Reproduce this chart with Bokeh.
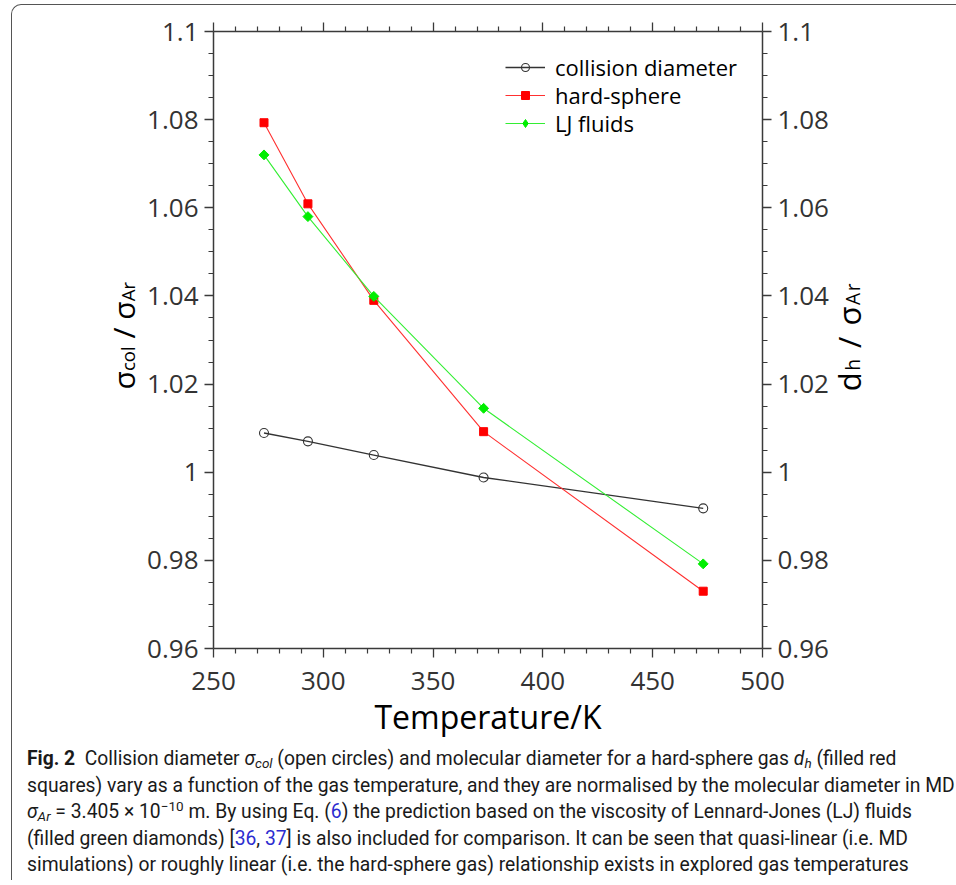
import math
from bokeh.plotting import figure
from bokeh.models import (LinearAxis, FixedTicker, CustomJSTickFormatter, Legend, LegendItem, Div)
from bokeh.layouts import column, row
from bokeh.embed import file_html
from bokeh.resources import INLINE

# ---------------- data ----------------
temperature = [273, 293, 323, 373, 473]
collision_diameter = [1.0089, 1.0070, 1.0039, 0.9988, 0.9918]
hard_sphere = [1.0793, 1.0609, 1.0390, 1.0092, 0.9730]
lj_fluids = [1.0720, 1.0580, 1.0399, 1.0145, 0.9792]

series_names = ["collision diameter", "hard-sphere", "LJ fluids"]

x_ticks = [250, 300, 350, 400, 450, 500]
x_minor = [260, 270, 280, 290, 310, 320, 330, 340, 360, 370, 380, 390,
           410, 420, 430, 440, 460, 470, 480, 490]
y_ticks = [0.96, 0.98, 1.0, 1.02, 1.04, 1.06, 1.08, 1.1]
y_minor = [0.965, 0.97, 0.975, 0.985, 0.99, 0.995, 1.005, 1.01, 1.015,
           1.025, 1.03, 1.035, 1.045, 1.05, 1.055, 1.065, 1.07, 1.075,
           1.085, 1.09, 1.095]

x_title = "Temperature/K"

# ---------------- layout constants ----------------
FONT = "Open Sans"
AX_COL = "#3a3a3a"
LEFT_W, FIG_W, RIGHT_W, FIG_H = 128, 696, 120, 735
FRAME_L, FRAME_R, FRAME_T, FRAME_B = 73, 622, 26, 643   # figure-local pixels

p = figure(width=FIG_W, height=FIG_H, x_range=(250, 500), y_range=(0.96, 1.1),
           output_backend="svg", toolbar_location=None,
           min_border_left=FRAME_L, min_border_right=FIG_W - FRAME_R,
           min_border_top=FRAME_T, min_border_bottom=FIG_H - FRAME_B,
           background_fill_color="white", border_fill_color="white", margin=0)
p.grid.visible = False
p.outline_line_color = None

fmt = CustomJSTickFormatter(code="return String(Number(tick.toFixed(3)));")
blank = CustomJSTickFormatter(code="return '';")
xt = FixedTicker(ticks=x_ticks, minor_ticks=x_minor)
yt = FixedTicker(ticks=y_ticks, minor_ticks=y_minor)


def style_axis(ax, show_labels=True):
    ax.axis_line_color = AX_COL
    ax.axis_line_width = 1.5
    ax.major_tick_line_color = AX_COL
    ax.minor_tick_line_color = AX_COL
    ax.major_tick_line_width = 1.3
    ax.minor_tick_line_width = 1.2
    ax.major_tick_out = 9
    ax.major_tick_in = 0
    ax.minor_tick_out = 5
    ax.minor_tick_in = 0
    ax.major_label_text_font = FONT
    ax.major_label_text_font_size = "26px" if show_labels else "1px"
    ax.major_label_text_color = "#333333"
    ax.major_label_standoff = 6 if show_labels else 0


xa = p.xaxis[0]
xa.ticker = xt
xa.formatter = fmt
style_axis(xa)
xa.major_label_standoff = 14
xa.axis_label = x_title
xa.axis_label_text_font = FONT
xa.axis_label_text_font_size = "32px"
xa.axis_label_text_font_style = "normal"
xa.axis_label_text_color = "black"
xa.axis_label_standoff = 2

ya = p.yaxis[0]
ya.ticker = yt
ya.formatter = fmt
style_axis(ya)

ra = LinearAxis(ticker=yt, formatter=fmt)
style_axis(ra)
p.add_layout(ra, "right")

ta = LinearAxis(ticker=xt, formatter=blank)
style_axis(ta, show_labels=False)
p.add_layout(ta, "above")

# ---------------- series ----------------
l1 = p.line(temperature, collision_diameter, line_color="#333333", line_width=1.3)
m1 = p.scatter(temperature, collision_diameter, marker="circle", size=9,
               fill_color=None, line_color="#333333", line_width=1.1)
l2 = p.line(temperature, hard_sphere, line_color="#ff3030", line_width=1.1)
m2 = p.scatter(temperature, hard_sphere, marker="square", size=8,
               fill_color="#ff0000", line_color="#ff0000")
l3 = p.line(temperature, lj_fluids, line_color="#33ee33", line_width=1.1)
m3 = p.scatter(temperature, lj_fluids, marker="square", size=7, angle=math.pi / 4,
               fill_color="#00ee00", line_color="#00ee00")
# legend-only key glyph (NaN position: nothing is drawn in the frame)
m3_key = p.scatter(x=[float("nan")], y=[float("nan")], marker="diamond", size=12,
                   fill_color="#00ee00", line_color="#00ee00")

legend_rows = [(series_names[0], [l1, m1], 67),
               (series_names[1], [l2, m2], 95),
               (series_names[2], [l3, m3_key], 122.5)]
for name, rends, cy in legend_rows:
    lg = Legend(items=[LegendItem(label=name, renderers=rends)],
                location=(292, 648 - (cy + 15)), border_line_color=None,
                background_fill_alpha=0,
                label_text_font=FONT, label_text_font_size="22px", label_text_color="black",
                glyph_width=40, glyph_height=20, label_height=20, label_standoff=10,
                spacing=0, padding=0, margin=0)
    p.add_layout(lg, "center")

# ---------------- rotated y-axis titles (HTML, reading bottom to top) ----------------
SUBS = "<sub style='font-size:62%;vertical-align:-0.22em;line-height:0'>{}</sub>"
VERT = ("<span style=\"display:inline-block;writing-mode:vertical-rl;transform:rotate(180deg);"
        "font-family:'Open Sans';font-size:{size}px;line-height:30px;white-space:nowrap;"
        "letter-spacing:{ls}px;position:relative;left:{dx}px;color:black\">{txt}</span>")
left_title = VERT.format(size=30, ls=0, dx=0,
                         txt="σ" + SUBS.format("col") + " / σ" + SUBS.format("Ar"))
right_title = VERT.format(size=31, ls=1.5, dx=-5,
                          txt="d" + SUBS.format("h") + " / σ" + SUBS.format("Ar"))

div_left = Div(text=left_title, width=LEFT_W, height=FIG_H, margin=0,
               styles={"padding-left": "97px", "padding-top": "277px", "box-sizing": "border-box"})
div_right = Div(text=right_title, width=RIGHT_W, height=FIG_H, margin=0,
                styles={"padding-left": "3px", "padding-top": "277px", "box-sizing": "border-box"})

# ---------------- caption ----------------
blue = "<span style='color:#2c2cd0'>{}</span>"
sub = "<sub style='font-size:70%;line-height:0;vertical-align:-0.25em'>{}</sub>"
sup = "<sup style='font-size:70%;line-height:0;vertical-align:0.55em'>{}</sup>"
caption_html = (
    "<b>Fig. 2</b>&nbsp; Collision diameter <i>σ" + sub.format("<i>col</i>") + "</i> (open circles) "
    "and molecular diameter for a hard-sphere gas <i>d" + sub.format("<i>h</i>") + "</i> (filled red<br>"
    "squares) vary as a function of the gas temperature, and they are normalised by the molecular diameter in MD<br>"
    "<i>σ" + sub.format("<i>Ar</i>") + "</i> = 3.405 × 10" + sup.format("−10") + " m. By using Eq. ("
    + blue.format("6") + ") the prediction based on the viscosity of Lennard-Jones (LJ) fluids<br>"
    "(filled green diamonds) [" + blue.format("36") + ", " + blue.format("37") + "] is also included for "
    "comparison. It can be seen that quasi-linear (i.e. MD<br>"
    "simulations) or roughly linear (i.e. the hard-sphere gas) relationship exists in explored gas temperatures"
)
div = Div(text=caption_html, width=LEFT_W + FIG_W + RIGHT_W, height=140, margin=0,
          styles={"font-family": "Roboto", "font-size": "19.3px", "line-height": "26.5px",
                  "color": "#1a1a1a", "white-space": "nowrap", "padding-left": "15px",
                  "padding-top": "6px"})

layout = column(row(div_left, p, div_right, spacing=0, margin=0), div, spacing=0,
                styles={"margin-left": "11px", "margin-top": "4px",
                        "border-left": "1px solid #555", "border-top": "1px solid #555",
                        "border-top-left-radius": "10px", "background": "white"})

open("out.html", "w").write(file_html(layout, INLINE))
